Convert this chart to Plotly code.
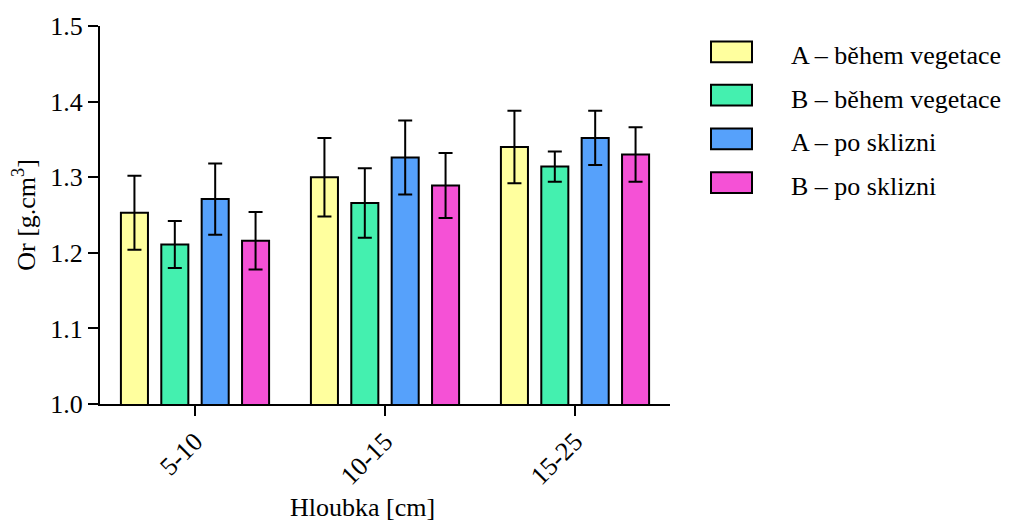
import plotly.graph_objects as go

# Bulk density by depth, two variants, during vegetation and after harvest
depths = ["5-10", "10-15", "15-25"]
series_names = ["A – během vegetace", "B – během vegetace", "A – po sklizni", "B – po sklizni"]
means = [
    [1.253, 1.300, 1.340],
    [1.211, 1.266, 1.314],
    [1.271, 1.326, 1.352],
    [1.216, 1.289, 1.330],
]
errors = [
    [0.049, 0.052, 0.048],
    [0.031, 0.046, 0.020],
    [0.047, 0.049, 0.036],
    [0.038, 0.043, 0.036],
]
colors = ["#FFFF9E", "#44F0AF", "#56A1FB", "#F551D6"]

FONT = "'Liberation Serif', 'Times New Roman', Times, serif"
FS = 26

fig = go.Figure()
for name, m, e, c in zip(series_names, means, errors, colors):
    fig.add_trace(go.Bar(
        x=depths, y=m, name=name, showlegend=False,
        marker=dict(color=c, line=dict(color="black", width=2)),
        error_y=dict(type="data", array=e, visible=True,
                     color="black", thickness=2, width=7),
    ))

# Legend drawn as swatches with labels to the right of the plot
L, R, T, B = 100, 339, 24, 117
W, H = 1009, 521
pw, ph = W - L - R, H - T - B
def px_x(x):
    return (x - L) / pw
def px_y(y):
    return (H - B - y) / ph

shapes = []
annotations = []
row_centers = [50, 93.5, 137.5, 181.5]
for name, c, yc in zip(series_names, colors, row_centers):
    shapes.append(dict(type="rect", xref="paper", yref="paper",
                       x0=px_x(711), x1=px_x(752),
                       y0=px_y(yc + 10.5), y1=px_y(yc - 10.5),
                       fillcolor=c, line=dict(color="black", width=2)))
    annotations.append(dict(xref="paper", yref="paper", x=px_x(789), y=px_y(yc + 4),
                            text=name, showarrow=False, xanchor="left", yanchor="middle",
                            font=dict(family=FONT, size=FS, color="black")))

annotations.append(dict(xref="paper", yref="paper", x=px_x(362), y=px_y(508),
                        text="Hloubka [cm]", showarrow=False,
                        xanchor="center", yanchor="middle",
                        font=dict(family=FONT, size=FS, color="black")))

fig.update_layout(
    width=W, height=H, autosize=False,
    margin=dict(l=L, r=R, t=T, b=B),
    paper_bgcolor="white", plot_bgcolor="white",
    barmode="group", bargap=0.15, bargroupgap=0.33,
    font=dict(family=FONT, size=FS, color="black"),
    shapes=shapes, annotations=annotations,
    xaxis=dict(type="category", range=[-0.5, 2.5], showline=True, linecolor="black",
               linewidth=2, ticks="outside", ticklen=10, tickwidth=2, tickcolor="black",
               tickangle=-45, showgrid=False, zeroline=False,
               tickfont=dict(family=FONT, size=FS)),
    yaxis=dict(range=[1.0, 1.5], dtick=0.1, tickformat=".1f", showline=True,
               linecolor="black", linewidth=2, ticks="outside", ticklen=10,
               tickwidth=2, tickcolor="black", showgrid=False, zeroline=False,
               tickfont=dict(family=FONT, size=FS),
               title=dict(text="Or [g.cm<sup>3</sup>]", standoff=7,
                          font=dict(family=FONT, size=FS))),
)

fig.write_html("out.html")
